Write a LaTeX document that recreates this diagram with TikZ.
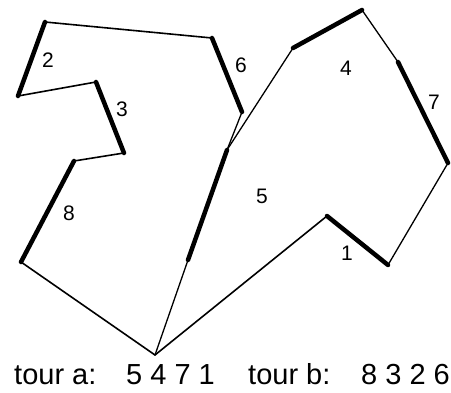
\documentclass[tikz,border=0pt]{standalone}
\usepackage{fontspec}
\setmainfont{Liberation Sans}
\begin{document}
\begin{tikzpicture}[x=1pt,y=-1pt,
  thickseg/.style={line width=4.5pt,line cap=round,line join=round},
  thinseg/.style={line width=1.6pt,line cap=round,line join=round},
  finseg/.style={line width=1.3pt,line cap=round,line join=round},
  lab/.style={font=\fontsize{21}{21}\selectfont,inner sep=0pt},
  tour/.style={font=\fontsize{29}{29}\selectfont,inner sep=0pt,anchor=base west}]
\useasboundingbox (0,0) rectangle (451,393);
% vertices
\coordinate (A) at (45,22);
\coordinate (B) at (212,38);
\coordinate (C) at (242,112);
\coordinate (D) at (227,150);
\coordinate (E) at (188,260);
\coordinate (P) at (155,355);
\coordinate (F) at (293,48);
\coordinate (G) at (362,10);
\coordinate (H) at (398,62);
\coordinate (I) at (448,163);
\coordinate (J) at (388,265);
\coordinate (K) at (327,216);
\coordinate (L) at (18,96);
\coordinate (M) at (96,82);
\coordinate (N) at (124,153);
\coordinate (O) at (74,161);
\coordinate (Q) at (21,262);
% left tour
\draw[thinseg] (A) -- (B);
\draw[thickseg] (B) -- (C);
\draw[finseg] (C) -- (D);
\draw[thickseg] (A) -- (L);
\draw[thinseg] (L) -- (M);
\draw[thickseg] (M) -- (N);
\draw[thinseg] (N) -- (O);
\draw[thickseg] (O) -- (Q);
\draw[thinseg] (Q) -- (P);
% right tour
\draw[thickseg] (D) -- (E);
\draw[finseg] (E) -- (P);
\draw[finseg] (D) -- (F);
\draw[thickseg] (F) -- (G);
\draw[finseg] (G) -- (H);
\draw[thickseg] (H) -- (I);
\draw[finseg] (I) -- (J);
\draw[thickseg] (J) -- (K);
\draw[thinseg] (K) -- (P);
% labels
\node[lab] (l2) at (48,60) {2};
\node[lab] (l6) at (241,65) {6};
\node[lab] (l3) at (122,109) {3};
\node[lab] (l8) at (69,213) {8};
\node[lab] (l4) at (346,68) {4};
\node[lab] (l7) at (434,102) {7};
\node[lab] (l5) at (262,196) {5};
\node[lab] (l1) at (347,253) {1};
% tours
\node[tour] (ta) at (14,385) {tour a:};
\node[tour] (sa) at (126,385) {5 4 7 1};
\node[tour] (tb) at (248,385) {tour b:};
\node[tour] (sb) at (361,385) {8 3 2 6};
\end{tikzpicture}
\end{document}
